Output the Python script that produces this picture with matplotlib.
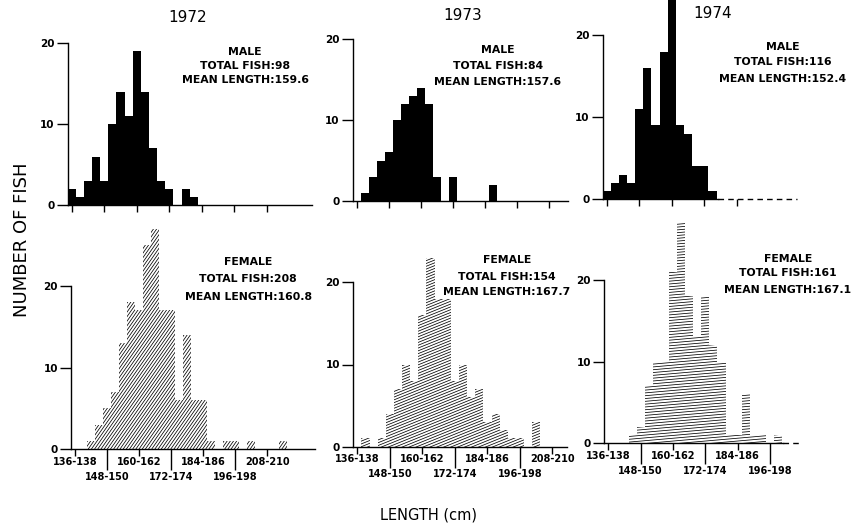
import numpy as np
import matplotlib
matplotlib.use("Agg")
import matplotlib.pyplot as plt
from matplotlib.collections import LineCollection
from matplotlib.path import Path
from matplotlib.patches import PathPatch
from matplotlib.transforms import Affine2D

W, H, DPI = 851, 531, 100

# ---------------- data ----------------
class_start = 136      # first length class 136-138 cm
class_width = 3        # 3-cm classes
tick_labels = ["136-138", "148-150", "160-162", "172-174", "184-186", "196-198", "208-210"]
years = ["1972", "1973", "1974"]

# counts per 3-cm class, starting with class 136-138
male_1972 = [2, 1, 3, 6, 3, 10, 14, 11, 19, 14, 7, 3, 2, 0, 2, 1]
male_1973 = [0, 1, 3, 5, 6, 10, 12, 13, 14, 12, 3, 0, 3, 0, 0, 0, 0, 2]
male_1974 = [1, 2, 3, 2, 11, 16, 9, 18, 28, 9, 8, 4, 4, 1]
female_1972 = [0, 0, 1, 3, 5, 7, 13, 18, 17, 25, 27, 17, 17, 6, 14, 6, 6, 1, 0, 1, 1, 0, 1, 0, 0, 0, 1]
female_1973 = [0, 1, 0, 1, 4, 7, 10, 8, 16, 23, 18, 18, 8, 10, 6, 7, 3, 4, 2, 1, 1, 0, 3]
female_1974 = [0, 0, 0, 1, 2, 7, 10, 10, 21, 27, 18, 13, 18, 12, 10, 1, 1, 6, 1, 1, 0, 1]

male_totals = [98, 84, 116]
male_means = ["159.6", "157.6", "152.4"]
female_totals = [208, 154, 161]
female_means = ["160.8", "167.7", "167.1"]

# ---------------- layout (image pixels) ----------------
layout = {
    ("M", 0): dict(x0=67.7, base=205.0, ppf=8.08, ppc=8.13, end=312, solid=None, nt=7),
    ("M", 1): dict(x0=352.7, base=201.0, ppf=8.10, ppc=8.03, end=568, solid=None, nt=7),
    ("M", 2): dict(x0=602.7, base=199.3, ppf=8.20, ppc=8.13, end=797, solid=718, nt=5),
    ("F", 0): dict(x0=71.3, base=449.3, ppf=8.17, ppc=8.00, end=315, solid=None, nt=7),
    ("F", 1): dict(x0=353.3, base=446.7, ppf=8.22, ppc=8.13, end=567, solid=None, nt=7),
    ("F", 2): dict(x0=604.3, base=443.3, ppf=8.17, ppc=8.08, end=802, solid=783, nt=6),
}
male_text_pos = [(245, [52, 66, 80]), (498, [50, 66, 82]), (783, [47, 62, 79])]
female_text_pos = [(248, [262, 279, 297]), (507, [260, 277, 292]), (788, [259, 273, 290])]
year_pos = [(188, 18), (463, 15), (713, 13)]
hatch_style = [dict(angle=55, sp=2.6), dict(angle=22, sp=2.6), dict(angle=5, sp=2.8)]

fig = plt.figure(figsize=(W / DPI, H / DPI), dpi=DPI)
pix = Affine2D().scale(1.0 / W, 1.0 / H) + fig.transFigure
BOLD = dict(family="DejaVu Sans", weight="bold")


def make_axes(L, female):
    base = L["base"]
    top = base - 20 * L["ppf"]
    ax = fig.add_axes([L["x0"] / W, 1 - base / H, (L["end"] - L["x0"]) / W, (base - top) / H])
    xmin = class_start - 0.5
    xmax = xmin + (L["end"] - L["x0"]) / L["ppc"] * class_width
    ax.set_xlim(xmin, xmax)
    ax.set_ylim(0, 20)
    ax.patch.set_visible(False)
    for s in ("top", "right"):
        ax.spines[s].set_visible(False)
    ax.spines["left"].set_bounds(0, 20)
    ax.spines["left"].set_linewidth(1.0)
    ax.spines["bottom"].set_linewidth(1.0)
    if L["solid"] is not None:
        xs = xmin + (L["solid"] - L["x0"]) / L["ppc"] * class_width
        ax.spines["bottom"].set_bounds(xmin, xs)
        ax.plot([xs, xmax], [0, 0], color="black", lw=1.0, ls=(0, (4, 3)), clip_on=False)
    ax.set_yticks([0, 10, 20])
    ax.set_yticklabels(["0", "10", "20"], fontsize=7.5, **BOLD)
    ax.tick_params(axis="y", direction="out", length=8, width=1.0, pad=1.5)
    centers = class_start + 1 + class_width * np.arange(L["nt"]) * 4
    if not female:
        ax.set_xticks(centers)
        ax.set_xticklabels([])
        ax.tick_params(axis="x", direction="out", length=5, width=1.0)
    else:
        maj = centers[0::2]
        mnr = centers[1::2]
        ax.set_xticks(maj)
        ax.set_xticklabels(tick_labels[0:L["nt"]:2], fontsize=7, **BOLD)
        ax.set_xticks(mnr, minor=True)
        ax.set_xticklabels(tick_labels[1:L["nt"]:2], minor=True, fontsize=7, **BOLD)
        ax.tick_params(axis="x", which="major", direction="out", length=5, width=1.0, pad=0.5)
        ax.tick_params(axis="x", which="minor", direction="out", length=15, width=1.0, pad=1.0)
    return ax


def hatch(ax, bars, L, angle, sp):
    paths = []
    for r in bars:
        h = r.get_height()
        if h <= 0:
            continue
        x, w = r.get_x(), r.get_width()
        paths.append(Path([(x, 0), (x + w, 0), (x + w, h), (x, h), (x, 0)],
                          [Path.MOVETO, Path.LINETO, Path.LINETO, Path.LINETO, Path.CLOSEPOLY]))
    clip = PathPatch(Path.make_compound_path(*paths), transform=ax.transData,
                     facecolor="none", edgecolor="none")
    ax.add_patch(clip)
    # hatch lines in display pixels (y up)
    x0, x1 = L["x0"] - 10, L["end"] + 10
    y0, y1 = H - L["base"] - 5, H - L["base"] + 32 * L["ppf"]
    cx, cy = (x0 + x1) / 2, (y0 + y1) / 2
    diag = np.hypot(x1 - x0, y1 - y0)
    t = np.radians(angle)
    d = np.array([np.cos(t), np.sin(t)])
    n = np.array([-np.sin(t), np.cos(t)])
    segs = []
    for k in np.arange(-diag / sp, diag / sp + 1):
        c = np.array([cx, cy]) + k * sp * n
        segs.append([c - diag * d, c + diag * d])
    lc = LineCollection(segs, colors="black", linewidths=0.55, transform=pix)
    lc.set_clip_path(clip)
    fig.add_artist(lc)


male_data = [male_1972, male_1973, male_1974]
female_data = [female_1972, female_1973, female_1974]

for j in range(3):
    # male
    L = layout[("M", j)]
    ax = make_axes(L, False)
    vals = male_data[j]
    xs = class_start + 1 + class_width * np.arange(len(vals))
    ax.bar(xs, vals, width=class_width, color="black", linewidth=0, clip_on=False)
    cx, ys = male_text_pos[j]
    for txt, y in zip(["MALE", f"TOTAL FISH:{male_totals[j]}", f"MEAN LENGTH:{male_means[j]}"], ys):
        fig.text(cx / W, 1 - y / H, txt, ha="center", va="center", fontsize=7.8, **BOLD)
    # female
    L = layout[("F", j)]
    ax = make_axes(L, True)
    vals = female_data[j]
    xs = class_start + 1 + class_width * np.arange(len(vals))
    bars = ax.bar(xs, vals, width=class_width, facecolor="none", edgecolor="none", clip_on=False)
    hatch(ax, bars, L, **hatch_style[j])
    cx, ys = female_text_pos[j]
    for txt, y in zip(["FEMALE", f"TOTAL FISH:{female_totals[j]}", f"MEAN LENGTH:{female_means[j]}"], ys):
        fig.text(cx / W, 1 - y / H, txt, ha="center", va="center", fontsize=7.8, **BOLD)
    yx, yy = year_pos[j]
    fig.text(yx / W, 1 - yy / H, years[j], ha="center", va="center", fontsize=11,
             family="DejaVu Sans", color="black")

fig.text(22 / W, 1 - 240 / H, "NUMBER OF FISH", rotation=90, ha="center", va="center",
         fontsize=13, family="DejaVu Sans")
fig.text(428 / W, 1 - 515 / H, "LENGTH (cm)", ha="center", va="center", fontsize=10.5,
         family="DejaVu Sans")

fig.savefig("out.png", dpi=DPI)
